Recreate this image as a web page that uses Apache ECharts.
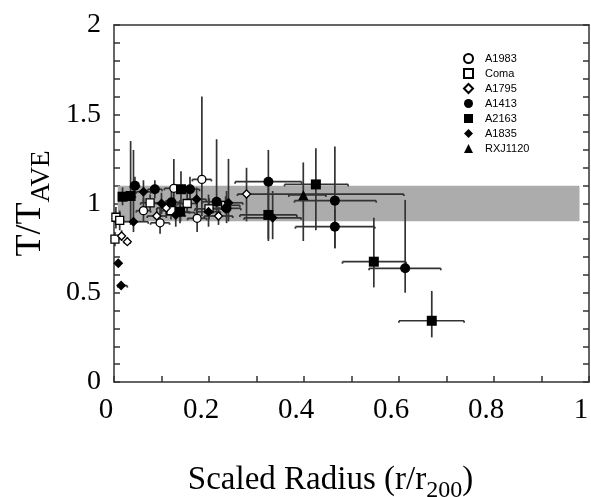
<!DOCTYPE html>
<html><head><meta charset="utf-8">
<script src="https://cdn.jsdelivr.net/npm/echarts@6/dist/echarts.min.js"></script>
<style>html,body{margin:0;padding:0;background:#fff}#c{width:591px;height:497px}</style>
</head><body><div id="c"></div>
<script>
// Each row: [x, y, xMin, xMax, yMin, yMax]
const A1983 = [
  [0.185, 1.135, 0.165, 0.205, 0.93, 1.60],
  [0.126, 1.085, 0.106, 0.146, 0.98, 1.25],
  [0.097, 0.892, 0.077, 0.117, 0.83, 0.98],
  [0.062, 0.960, 0.047, 0.077, 0.90, 1.03],
  [0.175, 0.917, 0.155, 0.195, 0.84, 1.02]
];
const Coma = [
  [0.004, 0.923, 0.000, 0.008, 0.86, 0.98],
  [0.002, 0.800, 0.000, 0.005, 0.76, 0.84],
  [0.012, 0.905, 0.008, 0.016, 0.85, 0.96],
  [0.076, 1.004, 0.056, 0.096, 0.96, 1.05],
  [0.154, 1.000, 0.134, 0.174, 0.95, 1.06],
  [0.120, 0.960, 0.100, 0.140, 0.91, 1.01],
  [0.200, 0.970, 0.170, 0.230, 0.91, 1.03],
  [0.235, 0.990, 0.205, 0.265, 0.94, 1.04]
];
const A1795 = [
  [0.016, 0.818, 0.011, 0.021, 0.79, 0.85],
  [0.028, 0.786, 0.022, 0.034, 0.77, 0.81],
  [0.279, 1.053, 0.260, 0.610, 0.90, 1.20],
  [0.090, 0.930, 0.070, 0.110, 0.89, 0.97],
  [0.140, 0.950, 0.110, 0.170, 0.90, 1.00],
  [0.110, 0.975, 0.090, 0.130, 0.93, 1.02],
  [0.220, 0.930, 0.190, 0.250, 0.88, 0.98]
];
const A1413 = [
  [0.044, 1.100, 0.034, 0.054, 1.05, 1.15],
  [0.086, 1.080, 0.071, 0.101, 1.03, 1.13],
  [0.160, 1.080, 0.140, 0.180, 1.02, 1.15],
  [0.121, 1.007, 0.101, 0.141, 0.95, 1.07],
  [0.216, 1.010, 0.186, 0.246, 0.92, 1.36],
  [0.325, 1.122, 0.255, 0.395, 0.80, 1.30],
  [0.465, 1.016, 0.380, 0.552, 0.75, 1.32],
  [0.465, 0.870, 0.382, 0.549, 0.75, 0.97],
  [0.613, 0.637, 0.537, 0.688, 0.50, 1.02],
  [0.237, 0.973, 0.207, 0.267, 0.89, 1.07]
];
const A2163 = [
  [0.018, 1.038, 0.010, 0.026, 0.99, 1.09],
  [0.035, 1.042, 0.025, 0.045, 0.88, 1.35],
  [0.141, 1.080, 0.121, 0.161, 1.00, 1.18],
  [0.139, 0.954, 0.119, 0.159, 0.89, 1.02],
  [0.325, 0.936, 0.265, 0.385, 0.79, 1.09],
  [0.425, 1.107, 0.359, 0.493, 0.85, 1.31],
  [0.547, 0.674, 0.481, 0.615, 0.53, 0.92],
  [0.669, 0.343, 0.600, 0.737, 0.25, 0.51]
];
const A1835 = [
  [0.009, 0.665, 0.005, 0.013, 0.645, 0.685],
  [0.015, 0.540, 0.008, 0.028, 0.52, 0.56],
  [0.041, 0.898, 0.010, 0.072, 0.84, 1.30],
  [0.062, 1.066, 0.047, 0.077, 1.00, 1.13],
  [0.100, 1.000, 0.080, 0.120, 0.94, 1.06],
  [0.174, 1.024, 0.154, 0.194, 0.95, 1.09],
  [0.199, 0.954, 0.174, 0.224, 0.87, 1.05],
  [0.130, 0.936, 0.110, 0.150, 0.87, 1.00],
  [0.334, 0.920, 0.274, 0.394, 0.80, 1.07],
  [0.241, 1.004, 0.211, 0.271, 0.90, 1.25]
];
const RXJ1120 = [
  [0.3985, 1.048, 0.368, 0.446, 0.79, 1.23]
];
const bandRange = [0.9, 1.1];
const xTicks = [0, 0.2, 0.4, 0.6, 0.8, 1];
const yTicks = [0, 0.5, 1, 1.5, 2];

const seriesDefs = [
  {name: 'A1983', data: A1983, symbol: 'circle', open: true, size: 8},
  {name: 'Coma', data: Coma, symbol: 'rect', open: true, size: 8},
  {name: 'A1795', data: A1795, symbol: 'diamond', open: true, size: 8},
  {name: 'A1413', data: A1413, symbol: 'circle', open: false, size: 10},
  {name: 'A2163', data: A2163, symbol: 'rect', open: false, size: 10},
  {name: 'A1835', data: A1835, symbol: 'diamond', open: false, size: 10},
  {name: 'RXJ1120', data: RXJ1120, symbol: 'triangle', open: false, size: 10}
];

const allRows = [].concat(A1983, Coma, A1795, A1413, A2163, A1835, RXJ1120);
const errColor = '#333';

function renderErr(params, api) {
  const x = api.value(0), y = api.value(1);
  const p0 = api.coord([api.value(2), y]);
  const p1 = api.coord([api.value(3), y]);
  const q0 = api.coord([x, api.value(4)]);
  const q1 = api.coord([x, api.value(5)]);
  const st = {stroke: errColor, lineWidth: 1.7};
  const cap = 2;
  return {
    type: 'group',
    children: [
      {type: 'line', shape: {x1: p0[0], y1: p0[1], x2: p1[0], y2: p1[1]}, style: st},
      {type: 'line', shape: {x1: q0[0], y1: q0[1], x2: q1[0], y2: q1[1]}, style: st},
      {type: 'line', shape: {x1: p0[0], y1: p0[1], x2: p0[0], y2: p0[1] + cap}, style: st},
      {type: 'line', shape: {x1: p1[0], y1: p1[1], x2: p1[0], y2: p1[1] + cap}, style: st}
    ]
  };
}

const series = [
  {
    type: 'line', data: [], silent: true, z: 1,
    markArea: {
      silent: true,
      itemStyle: {color: '#acacac'},
      data: [[{coord: [0.008, bandRange[0]]}, {coord: [0.98, bandRange[1]]}]]
    }
  },
  {
    type: 'custom', renderItem: renderErr, data: allRows, z: 2, silent: true,
    encode: {x: [0, 2, 3], y: [1, 4, 5]}
  }
];
seriesDefs.forEach(function (d) {
  series.push({
    name: d.name, type: 'scatter', z: 3, symbol: d.symbol, symbolSize: d.size,
    data: d.data.map(function (r) { return [r[0], r[1]]; }),
    itemStyle: d.open ? {color: '#ffffff', borderColor: '#000', borderWidth: 1.3, opacity: 1}
                      : {color: '#000', opacity: 1}
  });
});

const axisLineStyle = {color: '#333', width: 1.5};
function fmt(list) {
  return function (v) {
    const r = Math.round(v * 10) / 10;
    return list.indexOf(r) >= 0 ? String(r) : '';
  };
}
const chart = echarts.init(document.getElementById('c'), null, {renderer: 'canvas'});
chart.setOption({
  animation: false,
  backgroundColor: '#fff',
  grid: {left: 114, right: 2, top: 25, bottom: 115, containLabel: false, outerBoundsMode: 'none'},
  legend: {
    data: seriesDefs.map(function (d) { return {name: d.name, icon: d.symbol}; }),
    orient: 'vertical', left: 463, top: 53, padding: 0,
    itemWidth: 9, itemHeight: 9, itemGap: 4,
    textStyle: {fontFamily: 'Liberation Sans', fontSize: 11, color: '#000', padding: [0, 0, 0, 7]},
    selectedMode: false
  },
  xAxis: [
    {
      type: 'value', min: 0, max: 1, interval: 0.1, position: 'bottom',
      axisLine: {show: true, onZero: false, lineStyle: axisLineStyle},
      axisTick: {show: true, inside: true, length: 6, lineStyle: axisLineStyle},
      splitLine: {show: false},
      axisLabel: {
        margin: 14, color: '#000', fontFamily: 'Liberation Serif', fontSize: 29,
        padding: [0, 16, 0, 0], showMinLabel: true, showMaxLabel: true,
        formatter: fmt(xTicks)
      },
      name: '{a|Scaled Radius (r/r}{b|200}{a|)}',
      nameLocation: 'middle', nameGap: 80,
      nameTextStyle: {
        padding: [0, 42, 0, 0],
        rich: {
          a: {fontFamily: 'Liberation Serif', fontSize: 33, color: '#000', lineHeight: 36},
          b: {fontFamily: 'Liberation Serif', fontSize: 24, color: '#000', lineHeight: 22, padding: [22, 0, 0, 0]}
        }
      }
    },
    {
      type: 'value', min: 0, max: 1, position: 'top',
      axisLine: {show: true, onZero: false, lineStyle: axisLineStyle},
      axisTick: {show: false}, axisLabel: {show: false}, splitLine: {show: false}
    }
  ],
  yAxis: [
    {
      type: 'value', min: 0, max: 2, interval: 0.1, position: 'left',
      axisLine: {show: true, onZero: false, lineStyle: axisLineStyle},
      axisTick: {show: true, inside: true, length: 6, lineStyle: axisLineStyle},
      splitLine: {show: false},
      axisLabel: {
        margin: 13, color: '#000', fontFamily: 'Liberation Serif', fontSize: 28,
        formatter: fmt(yTicks)
      },
      name: '{a|T/T}{b|AVE}',
      nameLocation: 'middle', nameGap: 58,
      nameTextStyle: {
        rich: {
          a: {fontFamily: 'Liberation Serif', fontSize: 36, color: '#000', lineHeight: 38},
          b: {fontFamily: 'Liberation Serif', fontSize: 27, color: '#000', lineHeight: 24, padding: [22, 0, 0, 0]}
        }
      }
    },
    {
      type: 'value', min: 0, max: 2, interval: 0.1, position: 'right',
      axisLine: {show: true, onZero: false, lineStyle: axisLineStyle},
      axisTick: {show: true, inside: true, length: 6, lineStyle: axisLineStyle},
      axisLabel: {show: false}, splitLine: {show: false}
    }
  ],
  series: series
});
</script></body></html>
